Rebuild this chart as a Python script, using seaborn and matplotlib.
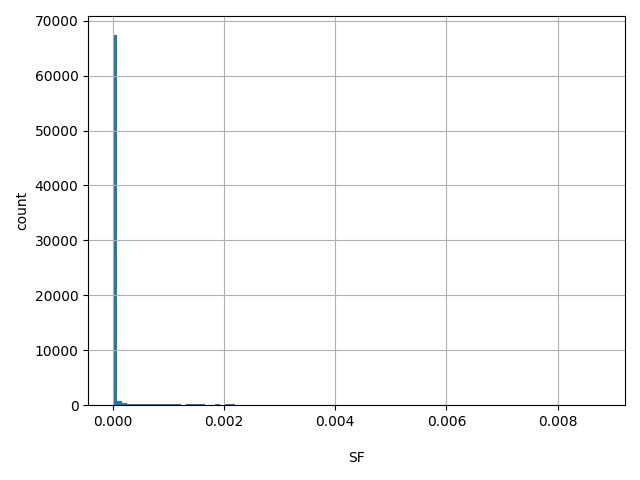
# import libraries
import matplotlib
matplotlib.use("Agg")
import matplotlib.pyplot as plt
import seaborn as sns
import pandas as pd

# SF values (bin centres) and how many rows fall there
sf = [0.000044, 0.000132, 0.000219, 0.000307, 0.000395, 0.000482, 0.000570,
      0.000658, 0.000746, 0.000833, 0.000921, 0.001009, 0.001096, 0.001184,
      0.001359, 0.001447, 0.001535, 0.001623, 0.001886, 0.002061, 0.002149]
counts = [67450, 720, 340, 200, 190, 185, 180, 175, 175, 170, 170, 165, 165, 160,
          160, 160, 155, 155, 150, 150, 150]

sf_range = (0.0, 0.00877)
n_bins = 100

df = pd.DataFrame({"SF": sf, "n": counts})

# histogram of SF
fig, ax = plt.subplots(figsize=(6.4, 4.8), dpi=100)
sns.histplot(data=df, x="SF", weights="n", bins=n_bins, binrange=sf_range,
             color="#1f77b4", alpha=1, linewidth=0, ax=ax)
ax.grid(True)
ax.set_xlabel("SF", labelpad=16)
ax.set_ylabel("count")
fig.tight_layout()
fig.savefig("out.png")
